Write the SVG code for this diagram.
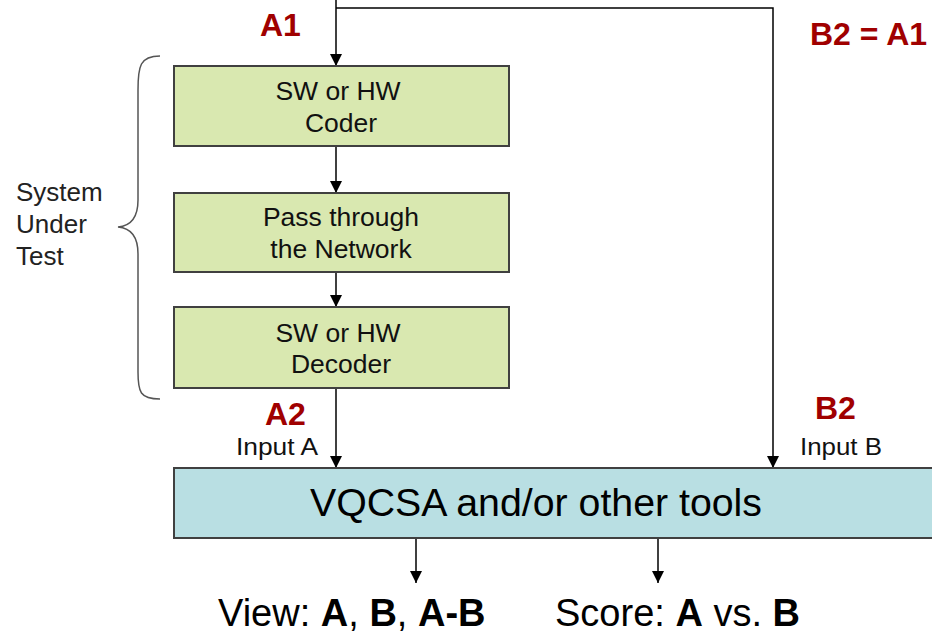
<svg xmlns="http://www.w3.org/2000/svg" width="932" height="636" viewBox="0 0 932 636">
<defs>
<marker id="ah" markerWidth="12" markerHeight="12" refX="10" refY="5" orient="auto" markerUnits="userSpaceOnUse" viewBox="0 0 10 10">
<path d="M0,0 L10,5 L0,10 z" fill="#000"/>
</marker>
</defs>
<style>
text{font-family:"Liberation Sans",Arial,sans-serif;}
.box{fill:#d9e8b0;stroke:#404040;stroke-width:2;}
.vq{fill:#b9dfe3;stroke:#404040;stroke-width:2;}
.bt{font-size:26.5px;fill:#111;text-anchor:middle;}
.red{font-size:32px;font-weight:bold;fill:#a00000;}
.inp{font-size:24px;fill:#111;}
.ln{stroke:#000;stroke-width:1.5;fill:none;}
.big{font-size:38px;fill:#000;}
</style>
<rect width="932" height="636" fill="#fff"/>
<g id="connectors">
<path class="ln" d="M336,0 V66" marker-end="url(#ah)"/>
<path class="ln" d="M336,8 H773 V468" marker-end="url(#ah)"/>
<path class="ln" d="M336,146 V193" marker-end="url(#ah)"/>
<path class="ln" d="M336,272 V307" marker-end="url(#ah)"/>
<path class="ln" d="M336,388 V468" marker-end="url(#ah)"/>
<path class="ln" d="M416,538 V583" marker-end="url(#ah)"/>
<path class="ln" d="M658,538 V583" marker-end="url(#ah)"/>
</g>
<g id="coder">
<rect class="box" x="174" y="66" width="335" height="80"/>
<text class="bt" x="338" y="100">SW or HW</text>
<text class="bt" x="341" y="132">Coder</text>
</g>
<g id="network">
<rect class="box" x="174" y="193" width="335" height="79"/>
<text class="bt" x="341" y="226">Pass through</text>
<text class="bt" x="341" y="258">the Network</text>
</g>
<g id="decoder">
<rect class="box" x="174" y="307" width="335" height="81"/>
<text class="bt" x="338" y="342">SW or HW</text>
<text class="bt" x="341" y="373">Decoder</text>
</g>
<g id="vqcsa">
<rect class="vq" x="174" y="468" width="770" height="70"/>
<text class="big" x="310" y="516" textLength="452" lengthAdjust="spacingAndGlyphs">VQCSA and/or other tools</text>
</g>
<g id="sut">
<path d="M160,56 C140,56 138,66 138,90 L138,200 C138,218 130,226 118,227 C130,228 138,236 138,254 L138,372 C138,392 140,399 160,399" fill="none" stroke="#555" stroke-width="1.5"/>
<text x="16" y="201" font-size="26" fill="#222">System</text>
<text x="16" y="233" font-size="26" fill="#222">Under</text>
<text x="16" y="265" font-size="26" fill="#222">Test</text>
</g>
<g id="labels">
<text class="red" x="260" y="36">A1</text>
<text class="red" x="810" y="45">B2 = A1</text>
<text class="red" x="265" y="425">A2</text>
<text class="inp" x="236" y="455" textLength="82" lengthAdjust="spacingAndGlyphs">Input A</text>
<text class="red" x="815" y="419">B2</text>
<text class="inp" x="800" y="455" textLength="82" lengthAdjust="spacingAndGlyphs">Input B</text>
</g>
<g id="outputs">
<text class="big" x="218" y="626">View: <tspan font-weight="bold">A</tspan>, <tspan font-weight="bold">B</tspan>, <tspan font-weight="bold">A-B</tspan></text>
<text class="big" x="555" y="626">Score: <tspan font-weight="bold">A</tspan> vs. <tspan font-weight="bold">B</tspan></text>
</g>
</svg>
